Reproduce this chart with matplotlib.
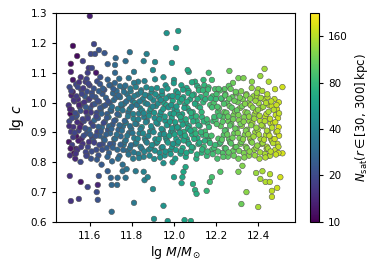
import numpy as np
import matplotlib
matplotlib.use("Agg")
import matplotlib.pyplot as plt
from matplotlib.colors import LogNorm

# halo mass, concentration and satellite count
# outliers above the main cloud
top_m = [11.600, 11.520, 11.540, 11.620, 11.605, 11.625, 11.643, 11.670, 11.510, 11.567,
         11.685, 11.723, 11.720, 11.770, 11.790, 11.870, 11.856, 11.910, 11.965, 12.020,
         12.010, 11.990, 11.510, 11.595, 11.610, 11.630, 11.590, 11.520, 11.557, 11.580,
         11.650, 11.720, 11.740, 11.810, 11.785, 11.900, 11.830, 11.950, 12.000, 12.070,
         12.065, 12.165, 12.263, 12.430, 12.410, 12.306, 12.330, 12.370, 12.400, 12.450,
         12.515, 12.480, 12.280, 12.240, 12.100, 12.140, 12.180, 12.195]
top_c = [1.290, 1.190, 1.156, 1.196, 1.163, 1.163, 1.176, 1.166, 1.130, 1.139,
         1.129, 1.149, 1.126, 1.139, 1.169, 1.163, 1.139, 1.136, 1.233, 1.240,
         1.183, 1.133, 1.103, 1.116, 1.116, 1.100, 1.100, 1.076, 1.085, 1.070,
         1.085, 1.100, 1.080, 1.103, 1.082, 1.109, 1.070, 1.085, 1.076, 1.103,
         1.109, 1.100, 1.106, 1.113, 1.089, 1.082, 1.082, 1.070, 1.045, 1.070,
         1.052, 1.045, 1.066, 1.045, 1.070, 1.076, 1.076, 1.045]
top_n = [13, 11, 11, 19, 20, 21, 22, 23, 11, 18,
         25, 28, 29, 30, 32, 40, 38, 44, 50, 56,
         54, 52, 13, 17, 20, 12, 18, 12, 16, 17,
         22, 28, 30, 35, 33, 45, 37, 48, 54, 64,
         66, 85, 110, 145, 140, 118, 122, 132, 145, 155,
         180, 170, 112, 100, 72, 78, 88, 92]

# outliers below the main cloud
low_m = [11.505, 11.510, 11.548, 11.557, 11.590, 11.638, 11.633, 11.638, 11.643, 11.685,
         11.700, 11.704, 11.730, 11.732, 11.770, 11.756, 11.775, 11.818, 11.856, 11.860,
         11.875, 11.900, 11.810, 11.704, 11.905, 11.970, 12.050, 12.080, 11.950, 12.000,
         12.036, 12.040, 11.993, 11.950, 12.055, 11.525, 11.535, 11.586, 12.320, 12.400,
         12.344, 12.465, 12.465, 12.490, 12.410, 12.435, 12.455, 12.390, 12.420, 12.456,
         12.505, 12.306, 12.220, 12.180, 12.170, 12.155, 12.100, 12.107, 12.090, 12.045,
         12.325, 12.445, 12.440, 12.515]
low_c = [0.754, 0.670, 0.677, 0.734, 0.717, 0.724, 0.700, 0.674, 0.754, 0.770,
         0.748, 0.724, 0.724, 0.748, 0.748, 0.770, 0.777, 0.770, 0.768, 0.740,
         0.750, 0.710, 0.664, 0.634, 0.610, 0.603, 0.606, 0.603, 0.654, 0.750,
         0.730, 0.750, 0.800, 0.797, 0.784, 0.830, 0.845, 0.825, 0.660, 0.650,
         0.700, 0.684, 0.704, 0.714, 0.744, 0.734, 0.734, 0.764, 0.770, 0.760,
         0.750, 0.768, 0.768, 0.750, 0.734, 0.704, 0.707, 0.694, 0.727, 0.768,
         0.788, 0.821, 0.845, 0.830]
low_n = [15, 16, 17, 12, 19, 14, 21, 22, 22, 25,
         27, 28, 29, 29, 32, 31, 33, 36, 40, 39,
         41, 45, 35, 30, 48, 54, 62, 66, 50, 56,
         60, 64, 55, 48, 65, 11, 12, 16, 112, 150,
         130, 170, 165, 178, 150, 158, 162, 140, 150, 160,
         185, 120, 97, 90, 85, 80, 72, 70, 70, 64,
         125, 160, 155, 185]

# main cloud, one line per slice in mass
core_m = [
    11.506, 11.501, 11.511, 11.503, 11.508, 11.500, 11.513, 11.504,
    11.531, 11.516, 11.536, 11.522, 11.533, 11.514, 11.527, 11.519, 11.535,
    11.556, 11.541, 11.561, 11.547, 11.558, 11.539, 11.552, 11.544, 11.560, 11.549,
    11.581, 11.566, 11.586, 11.572, 11.583, 11.564, 11.577, 11.569, 11.585,
    11.606, 11.591, 11.611, 11.597, 11.608, 11.589, 11.602, 11.594, 11.610, 11.599,
    11.631, 11.616, 11.636, 11.622, 11.633, 11.614, 11.627, 11.619, 11.635,
    11.656, 11.641, 11.661, 11.647, 11.658, 11.639, 11.652, 11.644, 11.660, 11.649,
    11.681, 11.666, 11.686, 11.672, 11.683, 11.664, 11.677, 11.669, 11.685,
    11.706, 11.691, 11.711, 11.697, 11.708, 11.689, 11.702, 11.694, 11.710, 11.699,
    11.731, 11.716, 11.736, 11.722, 11.733, 11.714, 11.727, 11.719,
    11.756, 11.741, 11.761, 11.747, 11.758, 11.739, 11.752, 11.744, 11.760,
    11.781, 11.766, 11.786, 11.772, 11.783, 11.764, 11.777, 11.769,
    11.806, 11.791, 11.811, 11.797, 11.808, 11.789, 11.802, 11.794, 11.810,
    11.831, 11.816, 11.836, 11.822, 11.833, 11.814, 11.827, 11.819,
    11.856, 11.841, 11.861, 11.847, 11.858, 11.839, 11.852, 11.844, 11.860,
    11.881, 11.866, 11.886, 11.872, 11.883, 11.864, 11.877, 11.869,
    11.906, 11.891, 11.911, 11.897, 11.908, 11.889, 11.902, 11.894, 11.910,
    11.931, 11.916, 11.936, 11.922, 11.933, 11.914, 11.927, 11.919,
    11.956, 11.941, 11.961, 11.947, 11.958, 11.939, 11.952, 11.944, 11.960,
    11.981, 11.966, 11.986, 11.972, 11.983, 11.964, 11.977, 11.969,
    12.006, 11.991, 12.011, 11.997, 12.008, 11.989, 12.002, 11.994, 12.010, 11.999,
    12.031, 12.016, 12.036, 12.022, 12.033, 12.014, 12.027, 12.019, 12.035,
    12.056, 12.041, 12.061, 12.047, 12.058, 12.039, 12.052, 12.044, 12.060,
    12.081, 12.066, 12.086, 12.072, 12.083, 12.064, 12.077, 12.069, 12.085,
    12.106, 12.091, 12.111, 12.097, 12.108, 12.089, 12.102, 12.094, 12.110,
    12.131, 12.116, 12.136, 12.122, 12.133, 12.114, 12.127, 12.119,
    12.156, 12.141, 12.161, 12.147, 12.158, 12.139, 12.152, 12.144,
    12.181, 12.166, 12.186, 12.172, 12.183, 12.164,
    12.206, 12.191, 12.211, 12.197, 12.208, 12.189, 12.202,
    12.231, 12.216, 12.236, 12.222, 12.233, 12.214, 12.227, 12.219,
    12.256, 12.241, 12.261, 12.247, 12.258, 12.239, 12.252, 12.244, 12.260,
    12.281, 12.266, 12.286, 12.272, 12.283, 12.264, 12.277, 12.269,
    12.306, 12.291, 12.311, 12.297, 12.308, 12.289, 12.302, 12.294,
    12.331, 12.316, 12.336, 12.322, 12.333, 12.314, 12.327, 12.319,
    12.356, 12.341, 12.361, 12.347, 12.358, 12.339, 12.352, 12.344,
    12.381, 12.366, 12.386, 12.372, 12.383, 12.364, 12.377, 12.369,
    12.406, 12.391, 12.411, 12.397, 12.408, 12.389, 12.402, 12.394,
    12.431, 12.416, 12.436, 12.422, 12.433, 12.414, 12.427, 12.419,
    12.456, 12.441, 12.461, 12.447, 12.458, 12.439, 12.452, 12.444,
    12.481, 12.466, 12.486, 12.472, 12.483, 12.464, 12.477,
    12.496, 12.491, 12.499, 12.497, 12.494, 12.489, 12.498,
]
core_c = [
    0.823, 0.868, 0.902, 0.937, 0.962, 0.991, 1.024, 1.052,
    0.812, 0.858, 0.887, 0.918, 0.951, 0.976, 1.004, 1.036, 1.061,
    0.801, 0.842, 0.879, 0.906, 0.929, 0.957, 0.986, 1.011, 1.043, 1.068,
    0.834, 0.862, 0.897, 0.938, 0.968, 0.996, 1.021, 1.048, 1.079,
    0.812, 0.851, 0.883, 0.909, 0.932, 0.953, 0.981, 1.009, 1.032, 1.058,
    0.842, 0.873, 0.902, 0.941, 0.966, 0.993, 1.018, 1.047, 1.071,
    0.792, 0.823, 0.861, 0.889, 0.917, 0.948, 0.977, 1.003, 1.029, 1.062,
    0.848, 0.879, 0.908, 0.936, 0.962, 0.988, 1.016, 1.043, 1.077,
    0.803, 0.831, 0.862, 0.897, 0.926, 0.951, 0.972, 0.998, 1.031, 1.058,
    0.842, 0.878, 0.909, 0.941, 0.979, 1.008, 1.039, 1.066,
    0.792, 0.821, 0.858, 0.887, 0.921, 0.958, 0.989, 1.018, 1.049,
    0.838, 0.869, 0.898, 0.932, 0.967, 0.997, 1.028, 1.057,
    0.812, 0.848, 0.881, 0.912, 0.946, 0.978, 1.007, 1.038, 1.066,
    0.828, 0.861, 0.897, 0.928, 0.963, 0.999, 1.027, 1.052,
    0.818, 0.852, 0.879, 0.918, 0.951, 0.981, 1.012, 1.041, 1.072,
    0.842, 0.871, 0.903, 0.938, 0.969, 0.998, 1.023, 1.051,
    0.811, 0.849, 0.877, 0.912, 0.948, 0.979, 1.008, 1.036, 1.078,
    0.832, 0.864, 0.893, 0.929, 0.958, 0.988, 1.019, 1.049,
    0.823, 0.849, 0.881, 0.908, 0.939, 0.969, 0.998, 1.028, 1.058,
    0.838, 0.872, 0.902, 0.927, 0.962, 0.991, 1.021, 1.047,
    0.812, 0.851, 0.878, 0.901, 0.922, 0.948, 0.977, 1.006, 1.038, 1.065,
    0.829, 0.862, 0.889, 0.913, 0.942, 0.971, 1.002, 1.031, 1.058,
    0.818, 0.848, 0.878, 0.902, 0.931, 0.961, 0.992, 1.018, 1.049,
    0.838, 0.867, 0.893, 0.921, 0.952, 0.981, 1.011, 1.039, 1.068,
    0.812, 0.849, 0.881, 0.909, 0.938, 0.968, 0.998, 1.027, 1.056,
    0.832, 0.861, 0.892, 0.922, 0.951, 0.988, 1.019, 1.048,
    0.821, 0.852, 0.879, 0.903, 0.932, 1.001, 1.029, 1.058,
    0.842, 0.871, 0.938, 0.992, 1.021, 1.051,
    0.812, 0.848, 0.879, 0.942, 0.969, 0.998, 1.028,
    0.831, 0.861, 0.891, 0.921, 0.952, 0.981, 1.012, 1.041,
    0.819, 0.848, 0.878, 0.908, 0.938, 0.968, 0.999, 1.028, 1.056,
    0.838, 0.867, 0.897, 0.928, 0.958, 0.988, 1.018, 1.046,
    0.812, 0.851, 0.881, 0.912, 0.941, 0.971, 1.002, 1.031,
    0.831, 0.862, 0.892, 0.922, 0.951, 0.982, 1.011, 1.038,
    0.822, 0.852, 0.879, 0.909, 0.938, 0.968, 0.998, 1.028,
    0.842, 0.869, 0.901, 0.931, 0.961, 0.991, 1.021, 1.049,
    0.812, 0.849, 0.878, 0.908, 0.939, 0.971, 0.998, 1.022,
    0.828, 0.861, 0.891, 0.921, 0.952, 0.982, 1.011, 1.039,
    0.822, 0.852, 0.878, 0.902, 0.931, 0.962, 0.991, 1.018,
    0.842, 0.871, 0.901, 0.932, 0.958, 0.988, 1.012,
    0.831, 0.862, 0.889, 0.918, 0.948, 0.978, 1.001,
]
core_n = [
    15, 12, 17, 19, 11, 16, 14, 20,
    14, 18, 12, 16, 21, 15, 17, 13, 19,
    20, 16, 14, 18, 13, 22, 17, 15, 19, 16,
    19, 16, 23, 20, 15, 18, 24, 17, 19,
    22, 19, 17, 26, 18, 20, 23, 19, 21, 18,
    21, 24, 19, 27, 20, 18, 23, 22, 21,
    24, 22, 21, 25, 29, 23, 26, 21, 24, 23,
    24, 27, 23, 31, 25, 27, 26, 22, 26,
    28, 26, 25, 28, 24, 34, 29, 25, 28, 27,
    29, 31, 27, 30, 36, 30, 29, 27,
    31, 29, 33, 28, 31, 37, 30, 32, 31,
    32, 35, 31, 39, 33, 35, 34, 31,
    36, 34, 37, 33, 42, 38, 34, 37, 36,
    38, 36, 39, 35, 38, 44, 37, 39,
    40, 39, 41, 46, 40, 42, 39, 41, 40,
    43, 41, 44, 40, 49, 45, 41, 44,
    45, 44, 47, 43, 46, 52, 44, 46, 45,
    47, 49, 46, 48, 55, 47, 49, 48,
    50, 48, 52, 49, 53, 50, 58, 52, 49,
    53, 51, 54, 52, 55, 60, 51, 54,
    56, 54, 58, 55, 57, 59, 54, 63, 58, 55,
    58, 61, 57, 60, 62, 58, 67, 57, 60,
    62, 64, 61, 69, 65, 62, 64, 61, 63,
    66, 64, 68, 65, 67, 73, 66, 64, 67,
    70, 72, 68, 78, 73, 70, 72, 68, 71,
    75, 72, 77, 74, 76, 83, 74, 76,
    80, 82, 78, 88, 83, 80, 82, 78,
    85, 87, 83, 92, 88, 85,
    90, 88, 97, 89, 91, 93, 90,
    96, 93, 98, 104, 97, 99, 95, 97,
    102, 99, 104, 101, 111, 105, 102, 99, 103,
    108, 105, 110, 107, 117, 111, 107, 109,
    115, 112, 118, 114, 124, 119, 115, 117,
    122, 119, 124, 131, 123, 125, 121, 123,
    130, 127, 139, 129, 131, 133, 129, 131,
    137, 134, 140, 148, 138, 141, 137, 139,
    145, 142, 148, 144, 156, 149, 145, 147,
    152, 149, 155, 151, 163, 156, 152, 154,
    160, 157, 171, 158, 161, 164, 160, 162,
    168, 165, 171, 182, 169, 172, 168,
    176, 172, 180, 190, 178, 181, 176,
]

# second, interleaved part of the main cloud
fill_m = [
    11.509, 11.521, 11.503, 11.516, 11.506, 11.524, 11.512,
    11.534, 11.546, 11.528, 11.541, 11.531, 11.549, 11.537, 11.543,
    11.559, 11.571, 11.553, 11.566, 11.556, 11.574, 11.562,
    11.584, 11.596, 11.578, 11.591, 11.581, 11.599, 11.587, 11.593,
    11.609, 11.621, 11.603, 11.616, 11.606, 11.624, 11.612,
    11.634, 11.646, 11.628, 11.641, 11.631, 11.649, 11.637, 11.643,
    11.659, 11.671, 11.653, 11.666, 11.656, 11.674, 11.662,
    11.684, 11.696, 11.678, 11.691, 11.681, 11.699, 11.687, 11.693,
    11.709, 11.721, 11.703, 11.716, 11.706, 11.724, 11.712,
    11.734, 11.746, 11.728, 11.741, 11.731, 11.749, 11.737, 11.743,
    11.759, 11.771, 11.753, 11.766, 11.756, 11.774, 11.762,
    11.784, 11.796, 11.778, 11.791, 11.781, 11.799, 11.787, 11.793,
    11.809, 11.821, 11.803, 11.816, 11.806, 11.824, 11.812,
    11.834, 11.846, 11.828, 11.841, 11.831, 11.849, 11.837, 11.843,
    11.859, 11.871, 11.853, 11.866, 11.856, 11.874, 11.862,
    11.884, 11.896, 11.878, 11.891, 11.881, 11.899, 11.887, 11.893,
    11.909, 11.921, 11.903, 11.916, 11.906, 11.924, 11.912,
    11.934, 11.946, 11.928, 11.941, 11.931, 11.949, 11.937, 11.943,
    11.959, 11.971, 11.953, 11.966, 11.956, 11.974, 11.962,
    11.984, 11.996, 11.978, 11.991, 11.981, 11.999, 11.987, 11.993,
    12.009, 12.021, 12.003, 12.016, 12.006, 12.024, 12.012, 12.018,
    12.034, 12.046, 12.028, 12.041, 12.031, 12.049, 12.037, 12.043,
    12.059, 12.071, 12.053, 12.066, 12.056, 12.074, 12.062, 12.068,
    12.084, 12.096, 12.078, 12.091, 12.081, 12.099, 12.087,
    12.109, 12.121, 12.103, 12.116, 12.106, 12.124, 12.112, 12.118,
    12.134, 12.146, 12.128, 12.141, 12.131, 12.149, 12.137,
    12.159, 12.171, 12.153, 12.166, 12.156, 12.174, 12.162,
    12.184, 12.196, 12.178, 12.191, 12.181, 12.199,
    12.209, 12.221, 12.203, 12.216, 12.206, 12.224, 12.212,
    12.234, 12.246, 12.228, 12.241, 12.231, 12.249, 12.237, 12.243,
    12.259, 12.271, 12.253, 12.266, 12.256, 12.274, 12.262,
    12.284, 12.296, 12.278, 12.291, 12.281, 12.299, 12.287, 12.293,
    12.309, 12.321, 12.303, 12.316, 12.306, 12.324, 12.312,
    12.334, 12.346, 12.328, 12.341, 12.331, 12.349, 12.337, 12.343,
    12.359, 12.371, 12.353, 12.366, 12.356, 12.374, 12.362,
    12.384, 12.396, 12.378, 12.391, 12.381, 12.399, 12.387, 12.393,
    12.409, 12.421, 12.403, 12.416, 12.406, 12.424, 12.412,
    12.434, 12.446, 12.428, 12.441, 12.431, 12.449, 12.437, 12.443,
    12.459, 12.471, 12.453, 12.466, 12.456, 12.474, 12.462,
    12.484, 12.496, 12.478, 12.491, 12.481, 12.499, 12.487,
]
fill_c = [
    0.846, 0.884, 0.921, 0.948, 0.978, 1.008, 1.039,
    0.829, 0.872, 0.899, 0.934, 0.965, 0.992, 1.021, 1.052,
    0.851, 0.889, 0.917, 0.944, 0.972, 1.001, 1.029,
    0.821, 0.868, 0.914, 0.947, 0.985, 1.013, 1.037, 1.064,
    0.836, 0.866, 0.893, 0.922, 0.967, 0.995, 1.022,
    0.809, 0.858, 0.888, 0.919, 0.954, 0.982, 1.006, 1.038,
    0.842, 0.874, 0.903, 0.932, 0.963, 0.991, 1.047,
    0.818, 0.861, 0.893, 0.921, 0.949, 0.976, 1.004, 1.058,
    0.849, 0.879, 0.912, 0.939, 0.986, 1.017, 1.046,
    0.812, 0.859, 0.893, 0.924, 0.961, 0.994, 1.024, 1.055,
    0.841, 0.874, 0.906, 0.939, 0.974, 1.004, 1.036,
    0.826, 0.857, 0.889, 0.921, 0.954, 0.987, 1.016, 1.047,
    0.833, 0.866, 0.898, 0.929, 0.962, 0.992, 1.022,
    0.814, 0.846, 0.879, 0.911, 0.944, 0.973, 1.004, 1.034,
    0.836, 0.866, 0.897, 0.934, 0.964, 0.995, 1.026,
    0.822, 0.858, 0.888, 0.921, 0.956, 0.987, 1.017, 1.046,
    0.839, 0.868, 0.901, 0.933, 0.966, 0.997, 1.028,
    0.816, 0.851, 0.878, 0.912, 0.944, 0.979, 1.009, 1.039,
    0.836, 0.866, 0.894, 0.924, 0.953, 0.984, 1.014,
    0.827, 0.862, 0.889, 0.914, 0.936, 0.963, 0.992, 1.022,
    0.841, 0.869, 0.893, 0.917, 0.934, 0.958, 0.987, 1.018,
    0.837, 0.873, 0.899, 0.926, 0.952, 0.982, 1.011, 1.043,
    0.832, 0.861, 0.889, 0.913, 0.944, 0.971, 1.003, 1.032,
    0.851, 0.878, 0.906, 0.937, 0.966, 0.996, 1.024,
    0.826, 0.866, 0.896, 0.924, 0.954, 0.983, 1.012, 1.041,
    0.843, 0.872, 0.901, 0.937, 0.968, 1.011, 1.041,
    0.836, 0.864, 0.891, 0.918, 0.944, 1.014, 1.044,
    0.827, 0.858, 0.889, 0.952, 0.984, 1.012,
    0.836, 0.866, 0.928, 0.956, 0.986, 1.014, 1.046,
    0.818, 0.846, 0.876, 0.906, 0.936, 0.966, 0.996, 1.024,
    0.833, 0.863, 0.893, 0.923, 0.953, 0.983, 1.013,
    0.822, 0.851, 0.882, 0.913, 0.944, 0.974, 1.006, 1.036,
    0.838, 0.868, 0.898, 0.928, 0.958, 0.988, 1.017,
    0.816, 0.847, 0.877, 0.906, 0.936, 0.966, 0.996, 1.024,
    0.836, 0.866, 0.894, 0.924, 0.953, 0.983, 1.013,
    0.823, 0.856, 0.886, 0.916, 0.946, 0.976, 1.006, 1.033,
    0.833, 0.864, 0.893, 0.924, 0.956, 0.986, 1.016,
    0.816, 0.846, 0.876, 0.906, 0.938, 0.969, 0.999, 1.028,
    0.836, 0.864, 0.889, 0.916, 0.946, 0.976, 1.004,
    0.826, 0.852, 0.878, 0.904, 0.934, 0.964, 0.992,
]
fill_n = [
    12, 17, 15, 20, 14, 16, 18,
    16, 13, 19, 15, 21, 14, 17, 20,
    17, 21, 14, 18, 22, 16, 19,
    19, 16, 22, 18, 24, 17, 21, 19,
    21, 18, 24, 20, 17, 23, 22,
    24, 20, 22, 26, 19, 23, 21, 25,
    22, 26, 24, 20, 27, 23, 25,
    27, 23, 26, 29, 24, 28, 22, 26,
    26, 30, 27, 24, 31, 28, 25,
    30, 27, 32, 29, 26, 33, 28, 31,
    29, 33, 31, 28, 34, 30, 32,
    33, 30, 35, 32, 37, 31, 34, 36,
    35, 38, 33, 36, 40, 34, 37,
    38, 35, 41, 37, 40, 43, 36, 39,
    41, 38, 44, 40, 43, 39, 42,
    43, 46, 41, 45, 48, 42, 44, 47,
    46, 49, 44, 47, 51, 45, 48,
    49, 46, 52, 48, 51, 54, 47, 50,
    51, 54, 49, 53, 56, 50, 52,
    54, 51, 57, 53, 56, 59, 52, 55,
    57, 54, 60, 56, 59, 62, 55, 58,
    60, 64, 58, 62, 66, 59, 63, 61,
    64, 61, 67, 63, 69, 62, 66, 65,
    67, 71, 65, 69, 73, 66, 70,
    71, 68, 75, 70, 77, 72, 69, 74,
    76, 73, 80, 75, 78, 74, 79,
    82, 78, 85, 80, 84, 79, 83,
    86, 83, 90, 85, 88, 84,
    92, 88, 96, 90, 94, 89, 95,
    98, 94, 102, 96, 100, 105, 95, 99,
    104, 100, 108, 103, 107, 101, 106,
    110, 106, 114, 109, 113, 108, 112, 111,
    117, 113, 121, 116, 120, 114, 119,
    124, 120, 128, 123, 127, 121, 126, 125,
    131, 127, 136, 130, 134, 128, 133,
    139, 135, 143, 138, 142, 136, 141, 140,
    147, 143, 151, 146, 150, 144, 149,
    155, 151, 159, 154, 158, 152, 157, 156,
    163, 159, 168, 162, 166, 160, 165,
    171, 167, 176, 170, 174, 168, 173,
]

cbar_ticks = [10, 20, 40, 80, 160]

lg_m = np.array(top_m + low_m + core_m + fill_m)
lg_c = np.array(top_c + low_c + core_c + fill_c)
n_sat = np.array(top_n + low_n + core_n + fill_n)
assert len(lg_m) == len(lg_c) == len(n_sat), (len(lg_m), len(lg_c), len(n_sat))

fig = plt.figure(figsize=(3.74, 2.62), dpi=100)
ax = fig.add_axes([0.150, 0.153, 0.639, 0.797])
cax = fig.add_axes([0.829, 0.153, 0.024, 0.797])

sc = ax.scatter(lg_m, lg_c, c=n_sat, cmap='viridis', norm=LogNorm(vmin=10, vmax=226),
                s=16, edgecolors='#555555', linewidths=0.4)

ax.set_xlim(11.44, 12.575)
ax.set_ylim(0.6, 1.3)
ax.set_xticks([11.6, 11.8, 12.0, 12.2, 12.4])
ax.set_yticks([0.6, 0.7, 0.8, 0.9, 1.0, 1.1, 1.2, 1.3])
ax.tick_params(labelsize=7.5, length=3)
ax.set_xlabel(r'lg $M/M_\odot$', fontsize=9, labelpad=2)
ax.set_ylabel(r'lg $c$', fontsize=10, labelpad=3)

cb = fig.colorbar(sc, cax=cax)
cb.set_ticks(cbar_ticks)
cb.set_ticklabels([str(t) for t in cbar_ticks])
cb.ax.minorticks_off()
cb.ax.tick_params(labelsize=7.5, length=3)
cb.set_label(r'$N_{\rm sat}(r\in[30,\,300]\,{\rm kpc})$', fontsize=8.5, labelpad=4)

fig.savefig('out.png', dpi=100)
